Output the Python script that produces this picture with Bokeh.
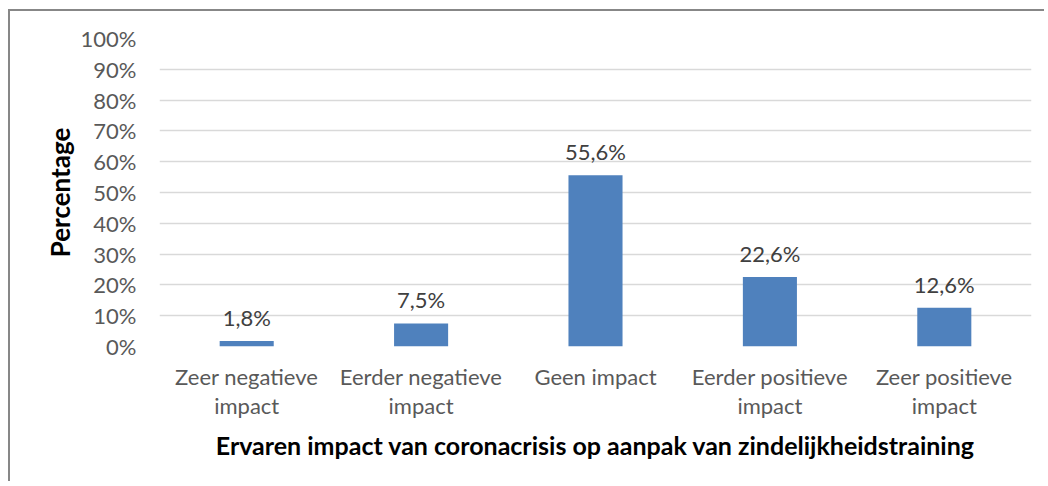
from bokeh.plotting import figure
from bokeh.models import ColumnDataSource, Range1d, FixedTicker, PrintfTickFormatter, LabelSet
from bokeh.core.properties import value
from bokeh.embed import file_html
from bokeh.resources import INLINE

categories = ["Zeer negatieve\nimpact", "Eerder negatieve\nimpact", "Geen impact",
              "Eerder positieve\nimpact", "Zeer positieve\nimpact"]
values = [1.8, 7.5, 55.6, 22.6, 12.6]
y_ticks = [0, 10, 20, 30, 40, 50, 60, 70, 80, 90, 100]
x_title = "Ervaren impact van coronacrisis op aanpak van zindelijkheidstraining"
y_title = "Percentage"

labels = [f"{v:.1f}%".replace(".", ",") for v in values]
src = ColumnDataSource(dict(cat=categories, val=values, lab=labels))

FONT = "Lato"

p = figure(x_range=categories, y_range=Range1d(0, 100), width=1036, height=472,
           output_backend="svg", toolbar_location=None,
           min_border_left=149, min_border_right=15, min_border_top=27, min_border_bottom=137)
p.styles = {"margin-left": "8px", "margin-top": "9px",
            "border-top": "2px solid #878787", "border-left": "2px solid #878787"}

p.vbar(x="cat", top="val", width=0.31, source=src, fill_color="#4F81BD", line_color=None)

p.add_layout(LabelSet(x="cat", y="val", text="lab", source=src, text_align="center",
                      text_baseline="alphabetic", y_offset=15,
                      text_font=value(FONT), text_font_size="22px", text_color="#404040"))

p.outline_line_color = None
p.xgrid.grid_line_color = None
p.ygrid.grid_line_color = "#D9D9D9"
p.ygrid.grid_line_width = 1.5

p.yaxis.ticker = FixedTicker(ticks=y_ticks)
p.yaxis.formatter = PrintfTickFormatter(format="%d%%")
for ax in (p.xaxis[0], p.yaxis[0]):
    ax.axis_line_color = None
    ax.major_tick_line_color = None
    ax.minor_tick_line_color = None
    ax.major_label_text_font = FONT
    ax.major_label_text_font_size = "22px"
    ax.major_label_text_color = "#595959"
    ax.axis_label_text_font = FONT
    ax.axis_label_text_font_style = "bold"
    ax.axis_label_text_color = "#000000"

p.xaxis.major_label_text_line_height = 1.08
p.xaxis.axis_label_text_font_size = "25px"
p.yaxis.axis_label_text_font_size = "26px"
p.yaxis.major_label_standoff = 17
p.xaxis.major_label_standoff = 10
p.xaxis.axis_label = x_title
p.yaxis.axis_label = y_title
p.xaxis.axis_label_standoff = 8
p.yaxis.axis_label_standoff = 2

open("out.html", "w").write(file_html(p, INLINE))
